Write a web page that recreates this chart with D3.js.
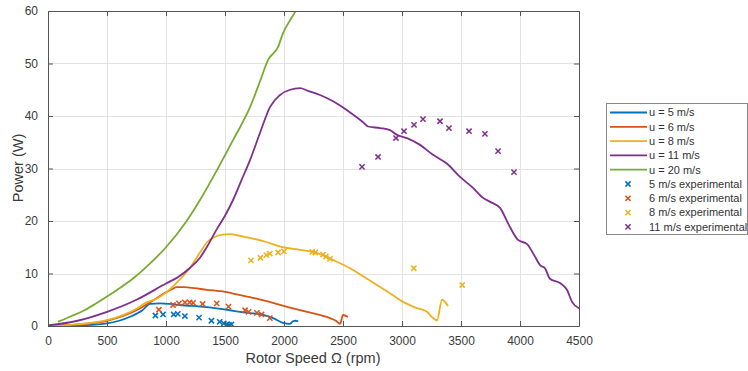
<!DOCTYPE html>
<html>
<head>
<meta charset="utf-8">
<script src="https://cdn.jsdelivr.net/npm/d3@7"></script>
<style>
  html, body { margin: 0; padding: 0; background: #fff; }
  svg { display: block; font-family: "Liberation Sans", Arial, sans-serif; }
</style>
</head>
<body>
<svg id="chart" width="748" height="371"></svg>
<script>
// Modelled power curves: [rotor speed (rpm), power (W)]
const curve5 = [[0,0],[250,0.1],[500,0.5],[700,1.8],[800,3.0],[864,4.2],[950,4.3],[1030,4.2],[1119,4.0],[1347,3.6],[1542,3.0],[1627,2.7],[1822,2.1],[1907,1.5],[1992,0.6],[2050,0.4],[2075,0.9],[2100,1.0],[2120,0.9]];
const curve6 = [[0,0],[250,0.3],[500,1.0],[750,3.0],[900,5.0],[1000,6.4],[1050,7.0],[1093,7.4],[1150,7.4],[1200,7.3],[1347,6.9],[1500,6.5],[1627,5.9],[1750,5.3],[1907,4.4],[2050,3.5],[2195,2.7],[2300,2.1],[2390,1.5],[2440,1.0],[2475,0.4],[2500,2.1],[2542,1.7]];
const curve8 = [[0,0],[250,0.3],[500,1.1],[750,3.3],[836,4.5],[920,5.2],[1008,6.5],[1093,8.3],[1200,11],[1288,14],[1350,16],[1415,17],[1480,17.4],[1542,17.5],[1620,17.2],[1712,16.8],[1850,16],[1992,15],[2136,14.5],[2280,13.9],[2415,12.6],[2560,11],[2703,9],[2873,6.6],[3008,4.6],[3127,3.4],[3212,2.7],[3254,1.7],[3297,1.1],[3339,5],[3390,3.8]];
const curve11 = [[0,0.1],[250,1.0],[500,2.7],[750,5.0],[1000,8.1],[1100,9.3],[1200,11],[1288,13],[1350,15.2],[1432,18.5],[1500,21],[1568,24],[1640,27.8],[1712,31.6],[1797,36.8],[1881,41.7],[1966,44],[2051,45],[2136,45.3],[2203,44.8],[2305,44],[2400,43],[2475,42],[2534,41.1],[2619,39.7],[2670,38.8],[2712,38.0],[2814,37.7],[2898,37.3],[2958,36.4],[3042,35.8],[3153,34.5],[3263,32.6],[3382,30.9],[3492,28.4],[3602,26.3],[3687,24.4],[3760,23.5],[3831,22.5],[3900,19.5],[3983,16.4],[4060,15.6],[4120,13.5],[4170,11.6],[4212,11],[4254,9],[4339,8.2],[4398,6.9],[4441,4.6],[4500,3.4]];
const curve20 = [[85,0.8],[200,1.9],[300,2.9],[400,4.2],[500,5.6],[600,7.1],[723,9.1],[850,11.6],[1000,15],[1175,20],[1288,24],[1432,29.7],[1568,35.4],[1712,41.7],[1800,46.8],[1865,50.7],[1949,53.1],[1992,55.8],[2050,58.2],[2093,59.8],[2120,61.2]];

// Experimental measurements: [rotor speed (rpm), power (W)]
const exp5 = [[910,2.0],[975,2.2],[1065,2.2],[1100,2.3],[1160,1.9],[1280,1.6],[1385,1.0],[1455,0.8],[1490,0.5],[1515,0.3],[1535,0.2],[1555,0.3]];
const exp6 = [[940,3.1],[1060,4.0],[1110,4.3],[1160,4.5],[1200,4.5],[1230,4.4],[1310,4.2],[1430,4.3],[1530,3.7],[1670,3.0],[1700,2.7],[1770,2.5],[1810,2.2],[1880,1.5]];
const exp8 = [[1720,12.5],[1800,13.0],[1850,13.5],[1880,13.8],[1950,14.0],[2000,14.2],[2240,14.1],[2265,14.0],[2330,13.6],[2355,13.2],[2390,12.8],[3100,11.0],[3510,7.8]];
const exp11 = [[2661,30.3],[2797,32.2],[2949,35.8],[3017,37.1],[3102,38.3],[3178,39.4],[3322,39.0],[3398,37.7],[3568,37.1],[3703,36.6],[3814,33.3],[3949,29.3]];

const xTicks = [0,500,1000,1500,2000,2500,3000,3500,4000,4500];
const yTicks = [0,10,20,30,40,50,60];

const lineSeries = [
  { label: "u = 5 m/s",  data: curve5,  color: "#0072BD" },
  { label: "u = 6 m/s",  data: curve6,  color: "#D95319" },
  { label: "u = 8 m/s",  data: curve8,  color: "#EDB120" },
  { label: "u = 11 m/s", data: curve11, color: "#7E2F8E" },
  { label: "u = 20 m/s", data: curve20, color: "#77AC30" }
];
const markerSeries = [
  { label: "5 m/s experimental",  data: exp5,  color: "#0072BD" },
  { label: "6 m/s experimental",  data: exp6,  color: "#D95319" },
  { label: "8 m/s experimental",  data: exp8,  color: "#EDB120" },
  { label: "11 m/s experimental", data: exp11, color: "#7E2F8E" }
];

const margin = { left: 48, top: 11, right: 579, bottom: 326 };
const svg = d3.select("#chart");

const x = d3.scaleLinear().domain([0, 4500]).range([margin.left, margin.right]);
const y = d3.scaleLinear().domain([0, 60]).range([margin.bottom, margin.top]);
const W = margin.right - margin.left, H = margin.bottom - margin.top;
const plain = d3.format("d");

// grid
const grid = svg.append("g").attr("stroke", "#e3e3e3").attr("stroke-width", 1);
xTicks.slice(1, -1).forEach(t => grid.append("line")
  .attr("x1", Math.round(x(t)) + 0.5).attr("x2", Math.round(x(t)) + 0.5)
  .attr("y1", margin.top).attr("y2", margin.bottom));
yTicks.slice(1, -1).forEach(t => grid.append("line")
  .attr("y1", Math.round(y(t)) + 0.5).attr("y2", Math.round(y(t)) + 0.5)
  .attr("x1", margin.left).attr("x2", margin.right));

// clip region for the plotted data
svg.append("clipPath").attr("id", "plotClip").append("rect")
  .attr("x", margin.left).attr("y", margin.top).attr("width", W).attr("height", H);

const plot = svg.append("g").attr("clip-path", "url(#plotClip)");
const line = d3.line().x(d => x(d[0])).y(d => y(d[1])).curve(d3.curveMonotoneX);

lineSeries.forEach(s => {
  plot.append("path").datum(s.data)
    .attr("d", line)
    .attr("fill", "none")
    .attr("stroke", s.color)
    .attr("stroke-width", 1.8)
    .attr("stroke-linejoin", "round");
});

const xMark = (g, cx, cy, r) => {
  g.append("path")
    .attr("d", `M${cx - r},${cy - r}L${cx + r},${cy + r}M${cx - r},${cy + r}L${cx + r},${cy - r}`);
};

markerSeries.forEach(s => {
  const g = plot.append("g").attr("stroke", s.color).attr("stroke-width", 1.5).attr("fill", "none");
  s.data.forEach(d => xMark(g, x(d[0]), y(d[1]), 2.6));
});

// axes (boxed, inward ticks)
const styleAxis = g => {
  g.select(".domain").attr("stroke", "#555").attr("stroke-width", 1);
  g.selectAll(".tick line").attr("stroke", "#555");
  g.selectAll("text").attr("fill", "#3a3a3a").attr("font-size", "12px")
    .attr("font-family", "'Liberation Sans', Arial, sans-serif");
};

svg.append("g").attr("transform", `translate(0,${margin.bottom})`)
  .call(d3.axisBottom(x).tickValues(xTicks).tickFormat(plain).tickSizeInner(-5).tickSizeOuter(0).tickPadding(10))
  .call(styleAxis);
svg.append("g").attr("transform", `translate(0,${margin.top})`)
  .call(d3.axisTop(x).tickValues(xTicks).tickSizeInner(-5).tickSizeOuter(0).tickFormat(""))
  .call(styleAxis);
svg.append("g").attr("transform", `translate(${margin.left},0)`)
  .call(d3.axisLeft(y).tickValues(yTicks).tickFormat(plain).tickSizeInner(-5).tickSizeOuter(0).tickPadding(10))
  .call(styleAxis);
svg.append("g").attr("transform", `translate(${margin.right},0)`)
  .call(d3.axisRight(y).tickValues(yTicks).tickSizeInner(-5).tickSizeOuter(0).tickFormat(""))
  .call(styleAxis);

// axis titles
svg.append("text")
  .attr("x", 313).attr("y", 363)
  .attr("text-anchor", "middle")
  .attr("font-size", "14.5px").attr("fill", "#3a3a3a")
  .text("Rotor Speed \u03A9 (rpm)");
svg.append("text")
  .attr("transform", "translate(23,168) rotate(-90)")
  .attr("text-anchor", "middle")
  .attr("font-size", "14.5px").attr("fill", "#3a3a3a")
  .text("Power (W)");

// legend
const lg = svg.append("g");
lg.append("rect")
  .attr("x", 606.5).attr("y", 103.5).attr("width", 141).attr("height", 131)
  .attr("fill", "#fff").attr("stroke", "#8a8a8a").attr("stroke-width", 1);
const rowY = i => 112.5 + i * 14.3;
lineSeries.forEach((s, i) => {
  lg.append("line").attr("x1", 610).attr("x2", 647).attr("y1", rowY(i)).attr("y2", rowY(i))
    .attr("stroke", s.color).attr("stroke-width", 1.8);
  lg.append("text").attr("x", 649).attr("y", rowY(i)).attr("dy", "0.35em")
    .attr("font-size", "11px").attr("fill", "#333").text(s.label);
});
markerSeries.forEach((s, j) => {
  const i = j + lineSeries.length;
  const g = lg.append("g").attr("stroke", s.color).attr("stroke-width", 1.5);
  xMark(g, 628, rowY(i), 2.6);
  lg.append("text").attr("x", 649).attr("y", rowY(i)).attr("dy", "0.35em")
    .attr("font-size", "11px").attr("fill", "#333").text(s.label);
});
</script>
</body>
</html>
